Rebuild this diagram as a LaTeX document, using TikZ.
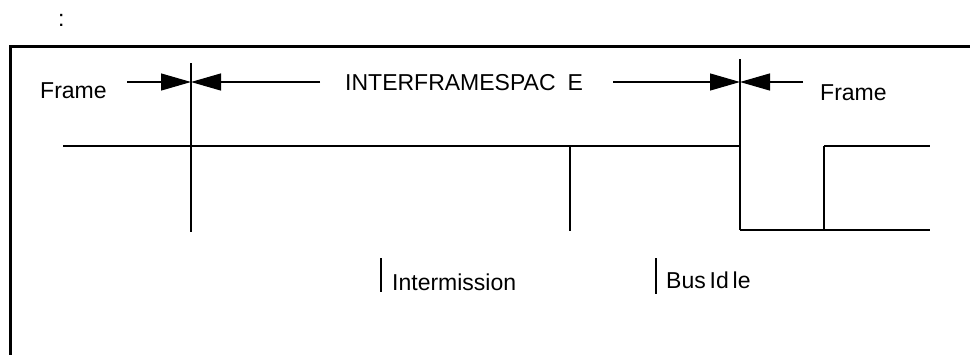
\documentclass[tikz,border=0pt]{standalone}
\usepackage{fontspec}
\setmainfont{Liberation Sans}
\usetikzlibrary{arrows.meta}
\begin{document}
\begin{tikzpicture}[x=1pt,y=-1pt,
  lbl/.style={inner sep=0pt,font=\fontsize{23}{27}\selectfont,anchor=west},
  sig/.style={line width=2pt},
  tick/.style={line width=1.6pt},
  dim/.style={line width=1.2pt,-{Triangle[length=30pt,width=17pt]}},
  border/.style={line width=3pt}]
\useasboundingbox (0,0) rectangle (970,354);
% outer frame
\coordinate (bl) at (10,360);
\coordinate (tl) at (10,46);
\coordinate (tr) at (975,46);
\draw[border] (bl) -- (tl) -- (tr);
\node[lbl] (colon) at (58,20) {:};
% labels
\node[lbl] (frameL) at (40,91) {Frame};
\node[lbl] (ifs) at (345,83) {INTERFRAMESPAC\hspace{12pt}E};
\node[lbl] (frameR) at (820,93) {Frame};
\node[lbl] (inter) at (392,282) {Intermission};
\node[lbl] (idle) at (666,280) {Bus\,Id\,le};
% dimension arrows
\coordinate (a1) at (127,82);
\coordinate (m1) at (191,82);
\coordinate (a2) at (320,82);
\coordinate (a3) at (613,82);
\coordinate (m2) at (740,82);
\coordinate (a4) at (803,82);
\draw[dim] (a1) -- (m1);
\draw[dim] (a2) -- (m1);
\draw[dim] (a3) -- (m2);
\draw[dim] (a4) -- (m2);
% vertical markers
\coordinate (v1t) at (191,63);
\coordinate (v1b) at (191,232);
\draw[tick] (v1t) -- (v1b);
\coordinate (v2t) at (570,146);
\coordinate (v2b) at (570,231);
\draw[tick] (v2t) -- (v2b);
\coordinate (v3t) at (740,59);
\draw[tick] (v3t) -- (740,146);
\coordinate (i1) at (381,258);
\coordinate (i2) at (381,292);
\draw[tick] (i1) -- (i2);
\coordinate (b1) at (656,258);
\coordinate (b2) at (656,294);
\draw[tick] (b1) -- (b2);
% signal
\coordinate (s0) at (63,146);
\coordinate (s1) at (740,146);
\coordinate (s2) at (740,230);
\coordinate (s3) at (930,230);
\coordinate (s4) at (824,230);
\coordinate (s5) at (824,146);
\coordinate (s6) at (930,146);
\draw[sig] (s0) -- (s1);
\draw[tick] (s1) -- (s2);
\draw[sig] (s2) -- (s3);
\draw[tick] (s4) -- (s5);
\draw[sig] (s5) -- (s6);
\end{tikzpicture}
\end{document}
